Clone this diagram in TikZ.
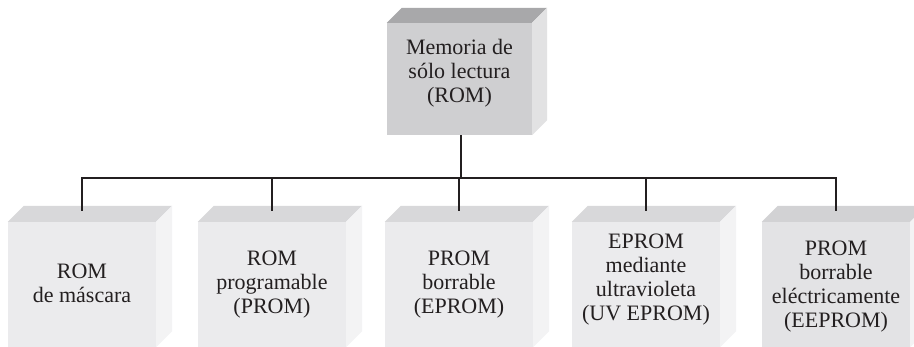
\documentclass[tikz,border=0pt]{standalone}
\usepackage{fontspec}
\setmainfont{Liberation Serif}
\usetikzlibrary{calc}

\definecolor{inkc}{HTML}{231F20}
\definecolor{rootfront}{HTML}{CFCFD1}
\definecolor{roottop}{HTML}{A8A8AA}
\definecolor{rootside}{HTML}{E2E2E3}
\definecolor{leaffront}{HTML}{EBEBED}
\definecolor{leaftop}{HTML}{D8D8DA}
\definecolor{leafside}{HTML}{F3F3F4}
\definecolor{lastfront}{HTML}{E3E3E5}
\definecolor{lasttop}{HTML}{D2D2D4}

\tikzset{
  face/.style={inner sep=0pt, text=inkc, align=center,
    font=\fontsize{22}{24}\selectfont},
  rootbox/.style={face, fill=rootfront, minimum width=145pt, minimum height=112pt},
  leafbox/.style={face, fill=leaffront, minimum width=148pt, minimum height=125pt},
  link/.style={draw=inkc, line width=2.6pt},
}

% top and side faces of a box seen in oblique view
\newcommand\blockfaces[4]{%
  \fill[#2] (#1.north west) -- ++(#4,#4) -- ($(#1.north east)+(#4,#4)$)
            -- (#1.north east) -- cycle;
  \fill[#3] (#1.north east) -- ++(#4,#4) -- ($(#1.south east)+(#4,#4)$)
            -- (#1.south east) -- cycle;
}

\begin{document}
\begin{tikzpicture}[x=1pt,y=1pt]
\useasboundingbox (0,0) rectangle (914,347);

% root box
\node[rootbox] (rom) at (459.5,268) {};
\blockfaces{rom}{roottop}{rootside}{15}
\node[face] (romtext) at (459.5,274) {Memoria de\\sólo lectura\\(ROM)};

% leaf boxes
\node[leafbox] (mask)  at (82,62.5)  {};
\node[leafbox] (prom)  at (272,62.5) {};
\node[leafbox] (eprom) at (459,62.5) {};
\node[leafbox] (uv)    at (646,62.5) {};
\node[leafbox, fill=lastfront] (ee) at (836,62.5) {};
\blockfaces{mask}{leaftop}{leafside}{16}
\blockfaces{prom}{leaftop}{leafside}{16}
\blockfaces{eprom}{leaftop}{leafside}{16}
\blockfaces{uv}{leaftop}{leafside}{16}
\blockfaces{ee}{lasttop}{leafside}{16}

\node[face] at (82,64)  {ROM\\de máscara};
\node[face] at (272,62) {ROM\\programable\\(PROM)};
\node[face] at (459,62) {PROM\\borrable\\(EPROM)};
\node[face] at (646,67) {EPROM\\mediante\\ultravioleta\\(UV EPROM)};
\node[face] at (836,60) {PROM\\borrable\\eléctricamente\\(EEPROM)};

% connectors
\coordinate (junc) at (461,169);
\draw[link] (rom.south -| junc) -- (junc);
\foreach \n in {mask,prom,eprom,uv,ee}
  \draw[link] (junc) -| ($(\n.north)+(0,11)$);
\end{tikzpicture}
\end{document}
